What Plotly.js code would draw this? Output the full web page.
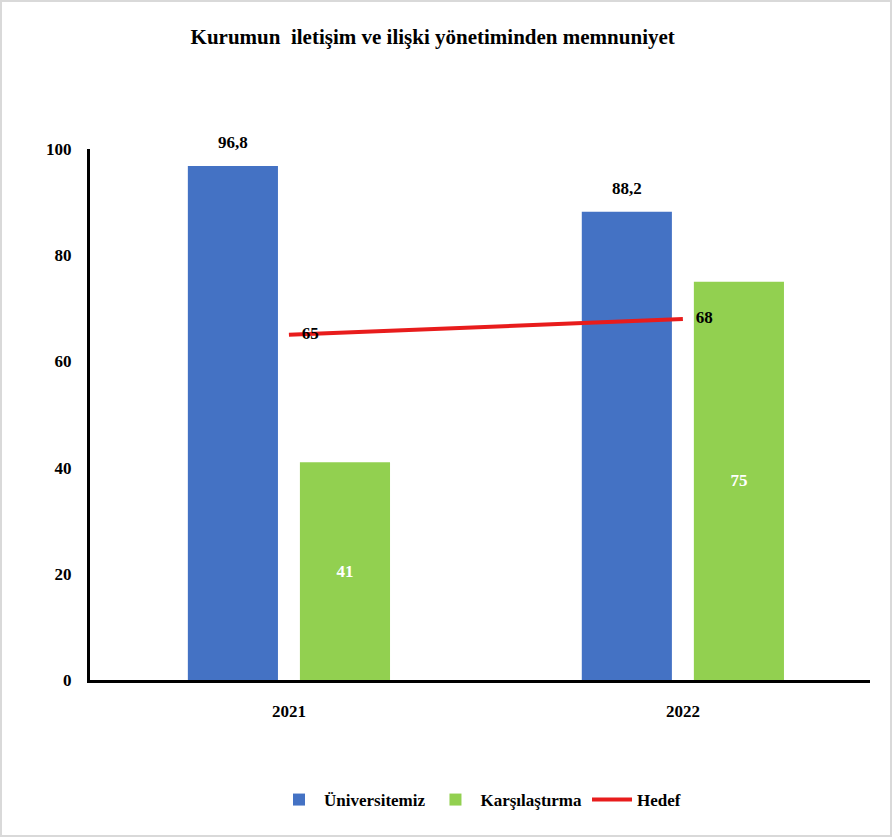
<!DOCTYPE html>
<html><head><meta charset="utf-8">
<script src="https://cdn.plot.ly/plotly-3.0.1.min.js"></script>
<style>
html,body{margin:0;padding:0;background:#fff;}
#chart{width:888px;height:833px;border:2px solid #d9d9d9;}
</style></head>
<body><div id="chart"></div>
<script>
const years = ['2021', '2022'];
const universite = [96.8, 88.2];
const karsilastirma = [41, 75];
const hedef = [65, 68];
const fmt = v => String(v).replace('.', ',');
const F = 'Liberation Serif, Times New Roman, serif';

const traces = [
  {type:'bar', name:'Üniversitemiz', x:years, y:universite,
   marker:{color:'#4472C4'}},
  {type:'bar', name:'Karşılaştırma', x:years, y:karsilastirma,
   marker:{color:'#92D050'}, text:karsilastirma.map(fmt), textposition:'inside',
   insidetextanchor:'middle', textfont:{family:F, size:17, color:'#fff', weight:'bold'}},
  {type:'scatter', mode:'lines+text', name:'Hedef', x:years, y:hedef,
   line:{color:'#E81C1C', width:4}, text:hedef.map(v => '\u00a0\u00a0\u00a0' + fmt(v)), textposition:'middle right',
   textfont:{family:F, size:17, color:'#000', weight:'bold'}, cliponaxis:false}
];

const annotations = years.map((yr, i) => ({
  x: i, y: universite[i], xref:'x', yref:'y', text:'<b>' + fmt(universite[i]) + '</b>',
  showarrow:false, xshift:-56, yshift:12, yanchor:'bottom',
  font:{family:F, size:17, color:'#000'}
}));

const layout = {
  width:888, height:833,
  margin:{l:88, r:20, t:147, b:155},
  paper_bgcolor:'#fff', plot_bgcolor:'#fff',
  font:{family:F, size:17, color:'#000'},
  title:{text:'<b>Kurumun  iletişim ve ilişki yönetiminden memnuniyet</b>', x:0.485, xanchor:'center', y:0.958, yanchor:'middle',
         font:{family:F, size:21, color:'#000'}},
  barmode:'group', bargap:0.431, bargroupgap:0.196,
  xaxis:{type:'category', range:[-0.505, 1.475], showline:true, linecolor:'#000', linewidth:3, showgrid:false, zeroline:false,
         ticks:'outside', ticklen:14, tickcolor:'rgba(0,0,0,0)',
         tickfont:{family:F, size:17, color:'#000', weight:'bold'}},
  yaxis:{range:[0,100], dtick:20, showline:true, linecolor:'#000', linewidth:3, showgrid:false, zeroline:false,
         ticks:'outside', ticklen:12, tickcolor:'rgba(0,0,0,0)',
         tickfont:{family:F, size:17, color:'#000', weight:'bold'}},
  legend:{orientation:'h', x:0.5, xanchor:'center', y:-0.226, yanchor:'middle',
          font:{family:F, size:17, color:'#000', weight:'bold'}, itemwidth:40, tracegroupgap:0},
  annotations: annotations,
  showlegend:true
};
Plotly.newPlot('chart', traces, layout, {displayModeBar:false, staticPlot:true});
</script></body></html>
